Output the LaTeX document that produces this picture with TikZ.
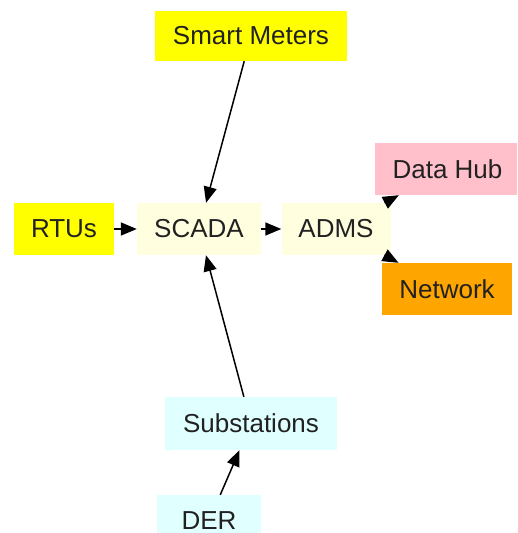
\documentclass[tikz,border=0pt]{standalone}
\usepackage{fontspec}
\setmainfont{Liberation Sans}
\usetikzlibrary{arrows.meta}
\definecolor{cyellow}{HTML}{FFFF00}
\definecolor{clyellow}{HTML}{FFFFE0}
\definecolor{cpink}{HTML}{FFC0CB}
\definecolor{corange}{HTML}{FFA500}
\definecolor{ccyan}{HTML}{E0FFFF}
\begin{document}
\begin{tikzpicture}[x=1pt,y=-1pt,
  box/.style={rectangle,inner sep=0pt,minimum height=52pt,
    font=\fontsize{26}{30}\selectfont,text=black!87},
  edge/.style={line width=1.5pt,-{Triangle[length=16pt,width=13pt]}}]
\useasboundingbox (0,0) rectangle (517,533);
\clip (0,0) rectangle (517,533);
\node[box,fill=cyellow,minimum width=192pt,minimum height=50pt] (sm) at (251,36) {Smart Meters};
\node[box,fill=cyellow,minimum width=100pt] (rtu) at (64,229) {RTUs};
\node[box,fill=clyellow,minimum width=124pt] (scada) at (199,229) {SCADA};
\node[box,fill=clyellow,minimum width=109pt] (adms) at (336,229) {ADMS};
\node[box,fill=cpink,minimum width=145pt] (hub) at (447.5,169) {Data Hub};
\node[box,fill=corange,minimum width=130pt] (net) at (447,289) {Network};
\node[box,fill=ccyan,minimum width=172pt,minimum height=53pt] (sub) at (251,423.5) {Substations};
\node[box,fill=ccyan,minimum width=104pt] (der) at (209,521) {DER};
\draw[edge] (sm) -- (scada);
\draw[edge] (rtu) -- (scada);
\draw[edge] (scada) -- (adms);
\draw[edge] (adms) -- (hub);
\draw[edge] (adms) -- (net);
\draw[edge] (sub) -- (scada);
\draw[edge] (der) -- (sub);
\end{tikzpicture}
\end{document}
